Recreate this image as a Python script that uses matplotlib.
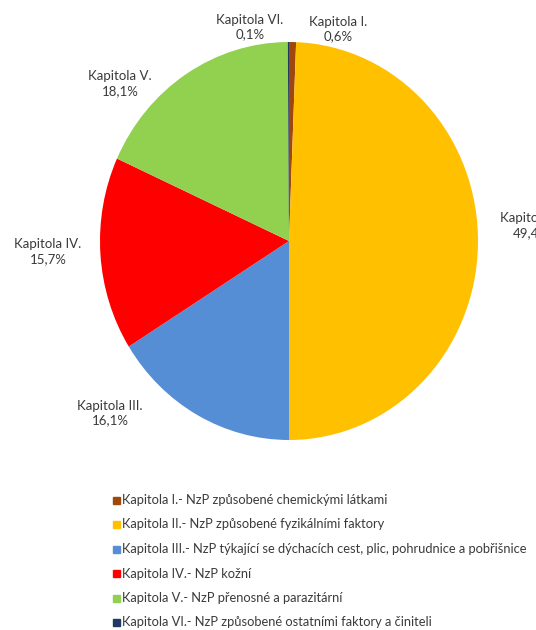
import matplotlib.pyplot as plt
from matplotlib.patches import Rectangle

plt.rcParams['font.family'] = ['Lato', 'DejaVu Sans']

kapitoly = ["Kapitola I.", "Kapitola II.", "Kapitola III.", "Kapitola IV.", "Kapitola V.", "Kapitola VI."]
podil = [0.6, 49.4, 16.1, 15.7, 18.1, 0.1]
popisy = [
    "NzP způsobené chemickými látkami",
    "NzP způsobené fyzikálními faktory",
    "NzP týkající se dýchacích cest, plic, pohrudnice a pobřišnice",
    "NzP kožní",
    "NzP přenosné a parazitární",
    "NzP způsobené ostatními faktory a činiteli",
]
barvy = ["#9E480E", "#FFC000", "#558ED5", "#FF0000", "#92D050", "#1F3864"]

W, H = 536, 630
fig = plt.figure(figsize=(W / 100, H / 100), dpi=100)

# pie centre and radii in pixels
cx, cy, rx, ry = 289, 241, 189, 199
ax = fig.add_axes([(cx - rx) / W, 1 - (cy + ry) / H, 2 * rx / W, 2 * ry / H])
ax.pie(podil, colors=barvy, startangle=90, counterclock=False,
       wedgeprops=dict(linewidth=0))
ax.set_aspect('auto')
ax.set_xlim(-1, 1)
ax.set_ylim(-1, 1)

# label positions (pixels)
pos = [(338, 29), (531, 226), (110, 413), (48, 252), (120, 84), (250, 27)]
txt_color = "#3a3a3a"
for k, v, (px, py) in zip(kapitoly, podil, pos):
    ax.text((px - cx) / rx, (cy - py) / ry,
            k + "\n" + f"{v:.1f}".replace(".", ",") + "%",
            ha='center', va='center', fontsize=9.5, color=txt_color,
            linespacing=1.3)

# legend
y0, dy = 500, 24.5
for i, (k, d, c) in enumerate(zip(kapitoly, popisy, barvy)):
    yy = y0 + i * dy
    fig.patches.append(Rectangle((113 / W, 1 - (yy + 3.5) / H), 7 / W, 7 / H,
                                 transform=fig.transFigure, color=c))
    fig.text(122 / W, 1 - yy / H, k + "- " + d, ha='left', va='center',
             fontsize=9.25, color=txt_color)

fig.savefig("out.png", dpi=100)
